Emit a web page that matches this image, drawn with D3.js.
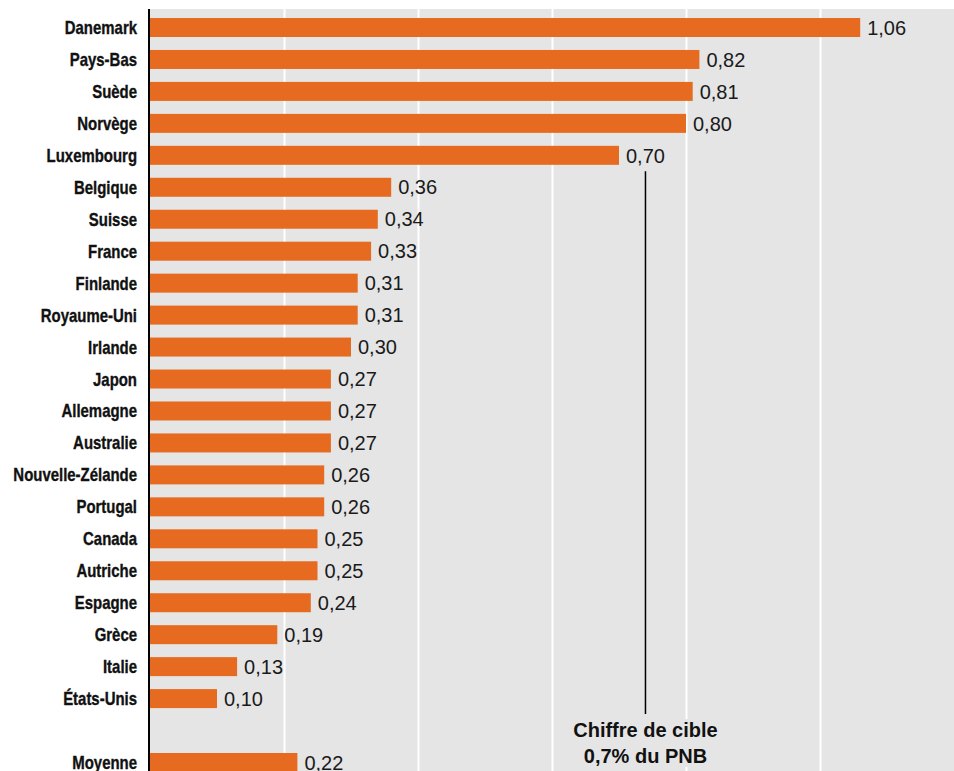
<!DOCTYPE html>
<html lang="fr">
<head>
<meta charset="utf-8">
<script src="https://cdn.jsdelivr.net/npm/d3@7"></script>
<style>
  html, body { margin: 0; padding: 0; background: #ffffff; }
  svg { display: block; }
</style>
</head>
<body>
<svg id="chart" width="954" height="771"></svg>
<script>
// Aide publique au développement, en % du PNB
const countries = [
  "Danemark", "Pays-Bas", "Suède", "Norvège", "Luxembourg", "Belgique",
  "Suisse", "France", "Finlande", "Royaume-Uni", "Irlande", "Japon",
  "Allemagne", "Australie", "Nouvelle-Zélande", "Portugal", "Canada",
  "Autriche", "Espagne", "Grèce", "Italie", "États-Unis"
];
const values = [
  1.06, 0.82, 0.81, 0.80, 0.70, 0.36,
  0.34, 0.33, 0.31, 0.31, 0.30, 0.27,
  0.27, 0.27, 0.26, 0.26, 0.25,
  0.25, 0.24, 0.19, 0.13, 0.10
];
const averageLabel = "Moyenne";
const averageValue = 0.22;
const gridTicks = [0.2, 0.4, 0.6, 0.8, 1.0];
const targetCountry = "Luxembourg";
const targetLines = ["Chiffre de cible", "0,7% du PNB"];

const W = 954, H = 771;
const plotLeft = 150, plotTop = 9;
const orange = "#e66b20";
const panel = "#e5e5e5";

const rows = countries.map((c, i) => ({ name: c, value: values[i] }));
rows.push({ name: "", value: null });          // empty row before the average
rows.push({ name: averageLabel, value: averageValue });

const svg = d3.select("#chart");

const x = d3.scaleLinear().domain([0, 1.2]).range([plotLeft, W]);
const y = d3.scalePoint().domain(rows.map((d, i) => i)).range([27.5, 762.5]);
const barH = 19;
const fmt = v => d3.format(".2f")(v).replace(".", ",");

// grey panel
svg.append("rect")
  .attr("x", plotLeft).attr("y", plotTop)
  .attr("width", W - plotLeft).attr("height", H - plotTop)
  .attr("fill", panel);

// vertical white grid
const grid = svg.append("g")
  .attr("transform", `translate(0,${plotTop})`)
  .call(d3.axisBottom(x).tickValues(gridTicks).tickSize(H - plotTop).tickFormat(""));
grid.select(".domain").remove();
grid.selectAll(".tick line").attr("stroke", "#ffffff").attr("stroke-width", 2);

// bars
const rowG = svg.append("g").selectAll("g")
  .data(rows.filter(d => d.value !== null))
  .join("g");

rowG.append("rect")
  .attr("x", x(0))
  .attr("y", d => y(rows.indexOf(d)) - barH / 2)
  .attr("width", d => x(d.value) - x(0))
  .attr("height", barH)
  .attr("fill", orange);

// value labels
const valueLabels = rowG.append("text")
  .attr("x", d => x(d.value) + 7)
  .attr("y", d => y(rows.indexOf(d)))
  .attr("dy", "0.36em")
  .attr("font-family", "'Liberation Sans', Arial, sans-serif")
  .attr("font-size", 20)
  .attr("fill", "#1a1a1a")
  .text(d => fmt(d.value));

// country labels (bold, condensed)
rowG.append("text")
  .attr("transform", d => `translate(137,${y(rows.indexOf(d))}) scale(0.83,1)`)
  .attr("dy", "0.36em")
  .attr("text-anchor", "end")
  .attr("font-family", "'Liberation Sans', Arial, sans-serif")
  .attr("font-weight", "bold")
  .attr("font-size", 18)
  .attr("fill", "#111111")
  .attr("stroke", "#111111")
  .attr("stroke-width", 0.35)
  .text(d => d.name);

// left axis line
svg.append("line")
  .attr("x1", plotLeft - 1).attr("x2", plotLeft - 1)
  .attr("y1", plotTop).attr("y2", H)
  .attr("stroke", "#000000").attr("stroke-width", 2);

// target annotation, hanging under the target country's value label
const tIdx = rows.findIndex(d => d.name === targetCountry);
const tLabel = valueLabels.filter(d => d.name === targetCountry).node();
const tBox = tLabel.getBBox();
const tx = tBox.x + tBox.width / 2;

svg.append("line")
  .attr("x1", tx).attr("x2", tx)
  .attr("y1", y(tIdx) + 16).attr("y2", 714)
  .attr("stroke", "#000000").attr("stroke-width", 1.5);

const note = svg.append("g");
const noteText = note.append("text")
  .attr("x", tx)
  .attr("text-anchor", "middle")
  .attr("font-family", "'Liberation Sans', Arial, sans-serif")
  .attr("font-weight", "bold")
  .attr("font-size", 20)
  .attr("fill", "#111111");
noteText.selectAll("tspan")
  .data(targetLines)
  .join("tspan")
  .attr("x", tx)
  .attr("y", (d, i) => 737 + i * 26)
  .text(d => d);
const nb = noteText.node().getBBox();
note.insert("rect", "text")
  .attr("x", nb.x - 2).attr("y", nb.y)
  .attr("width", nb.width + 4).attr("height", nb.height)
  .attr("fill", panel);
</script>
</body>
</html>
